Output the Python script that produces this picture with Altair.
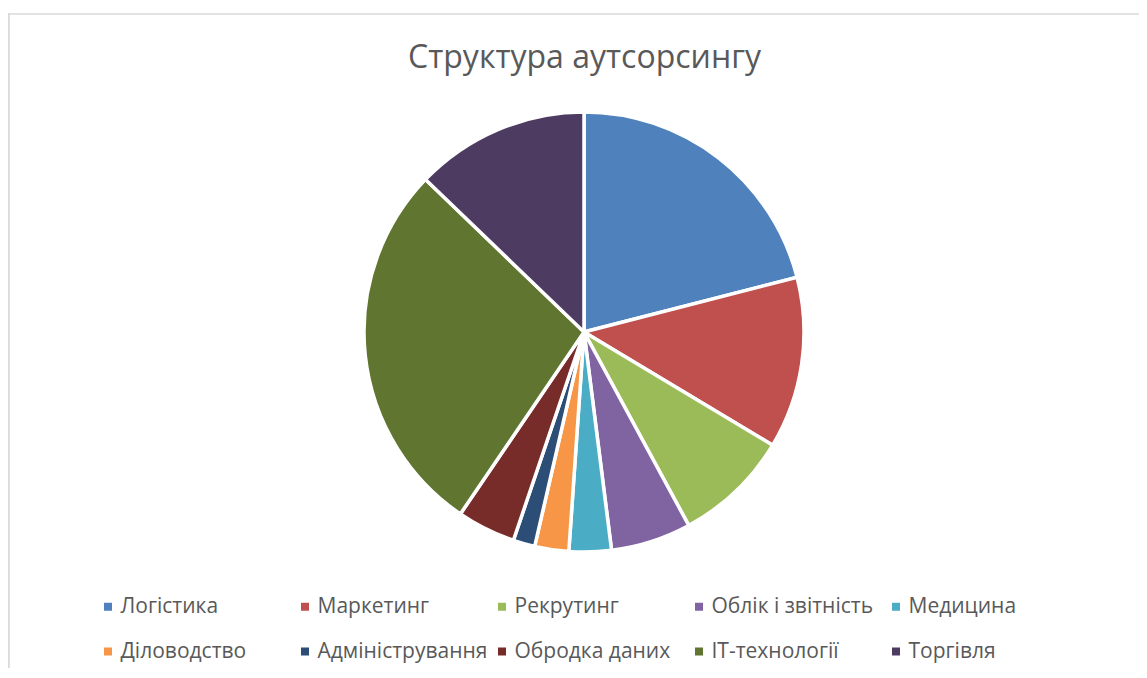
import altair as alt
import pandas as pd

categories = ["Логістика", "Маркетинг", "Рекрутинг", "Облік і звітність", "Медицина",
              "Діловодство", "Адміністрування", "Обродка даних", "IT-технології", "Торгівля"]
shares = [21.0, 12.6, 8.5, 5.9, 3.1, 2.5, 1.6, 4.3, 27.7, 12.8]
colors = ["#4F81BD", "#C0504D", "#9BBB59", "#8064A2", "#4BACC6",
          "#F79646", "#2C4D75", "#772C2A", "#5F7530", "#4D3B62"]

df = pd.DataFrame({"category": categories, "share": shares, "idx": list(range(len(categories)))})
frame_df = pd.DataFrame({"k": [0]})

W, H = 1131, 660

pie = alt.Chart(df).mark_arc(radius=220, stroke="white", strokeWidth=3.5).encode(
    theta=alt.Theta("share:Q", stack=True),
    color=alt.Color(
        "category:N",
        scale=alt.Scale(domain=categories, range=colors),
        sort=categories,
        legend=alt.Legend(
            orient="none", legendX=89.5, legendY=588, columns=5, direction="horizontal",
            symbolType="square", symbolSize=64, symbolStrokeWidth=0,
            labelFontSize=21, labelFont="Open Sans", labelColor="#595959",
            labelOffset=2, labelLimit=400, gridAlign="all", columnPadding=4,
            rowPadding=23, title=None, padding=0,
        ),
    ),
    order=alt.Order("idx:Q"),
    x=alt.value(576),
    y=alt.value(324),
)

top_border = alt.Chart(frame_df).mark_rule(color="#D9D9D9", strokeWidth=1.7).encode(
    x=alt.value(0), x2=alt.value(W + 20), y=alt.value(6)
)
left_border = alt.Chart(frame_df).mark_rule(color="#D9D9D9", strokeWidth=1.7).encode(
    x=alt.value(0.9), y=alt.value(5), y2=alt.value(H + 20)
)

chart = alt.layer(top_border, left_border, pie).properties(
    width=W, height=H,
    title=alt.TitleParams("Структура аутсорсингу", fontSize=32, font="Open Sans",
                          color="#595959", fontWeight="normal", anchor="middle",
                          offset=-67, dx=11),
    autosize=alt.AutoSizeParams(type="none"),
    padding=0,
).configure_view(stroke=None)

chart.save("out.html", embed_options={"renderer": "svg", "actions": False})
